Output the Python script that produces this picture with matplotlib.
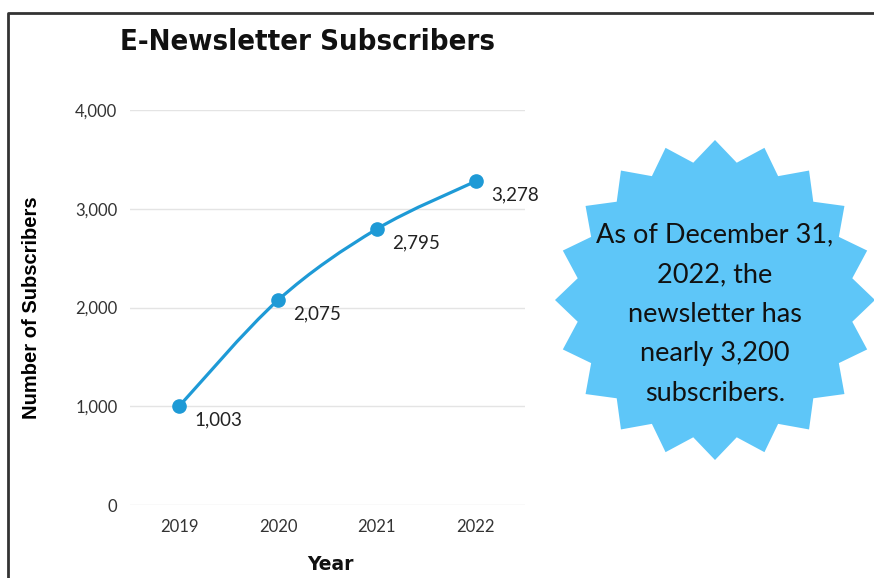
import numpy as np
from matplotlib import pyplot as plt
from matplotlib.path import Path
from matplotlib.patches import PathPatch, Polygon
from matplotlib.lines import Line2D
from matplotlib.ticker import FuncFormatter

years = ["2019", "2020", "2021", "2022"]
subscribers = [1003, 2075, 2795, 3278]
y_ticks = [0, 1000, 2000, 3000, 4000]
note_lines = ["As of December 31,", "2022, the", "newsletter has", "nearly 3,200", "subscribers."]

line_color = "#1e9ad6"
star_color = "#5ec6f8"


def smooth_path(xs, ys):
    # Catmull-Rom segments turned into cubic bezier pieces
    pts = np.column_stack([xs, ys]).astype(float)
    verts = [pts[0]]
    codes = [Path.MOVETO]
    n = len(pts)
    for i in range(n - 1):
        p0 = pts[i - 1] if i > 0 else pts[i]
        p1 = pts[i]
        p2 = pts[i + 1]
        p3 = pts[i + 2] if i + 2 < n else pts[i + 1]
        c1 = p1 + (p2 - p0) / 6.0
        c2 = p2 - (p3 - p1) / 6.0
        verts += [c1, c2, p2]
        codes += [Path.CURVE4] * 3
    return Path(verts, codes)


fig = plt.figure(figsize=(8.74, 5.78), dpi=100)
W, H = 874, 578

ax = fig.add_axes([130 / W, 1 - 505 / H, 395 / W, 395 / H])
x = np.arange(len(years))
ax.add_patch(PathPatch(smooth_path(x, subscribers), fill=False, edgecolor=line_color,
                       lw=2.3, clip_on=False, zorder=3))
ax.plot(x, subscribers, "o", color=line_color, markersize=9.5, clip_on=False, zorder=4)
for xi, v in zip(x, subscribers):
    ax.annotate(f"{v:,}", (xi, v), xytext=(11, -10), textcoords="offset points",
                ha="left", va="center", fontsize=13.5, color="#222222", family="Lato")

ax.set_xlim(-0.5, 3.5)
ax.set_ylim(0, 4000)
ax.set_xticks(x)
ax.set_xticklabels(years)
ax.set_yticks(y_ticks)
ax.yaxis.set_major_formatter(FuncFormatter(lambda v, p: f"{int(v):,}"))
ax.tick_params(length=0, labelsize=12, labelcolor="#333333", pad=9)
ax.tick_params(axis="x", pad=10)
for lab in ax.get_xticklabels() + ax.get_yticklabels():
    lab.set_family("Lato")
ax.grid(axis="y", color="#e4e4e4", lw=1)
ax.set_axisbelow(True)
for s in ax.spines.values():
    s.set_visible(False)

fig.text(120 / W, 1 - 42 / H, "E-Newsletter Subscribers", fontsize=21, fontweight="bold",
         family="DejaVu Sans", fontstretch="condensed", ha="left", va="center", color="#111111")
fig.text(32 / W, 1 - 308 / H, "Number of Subscribers", rotation=90, fontsize=14.5,
         fontweight="bold", family="Liberation Sans", ha="center", va="center")
fig.text(330 / W, 1 - 565 / H, "Year", fontsize=13.5, fontweight="bold", family="DejaVu Sans",
         ha="center", va="center", color="#111111")

# overlay in pixel coordinates for the frame and the star note
ov = fig.add_axes([0, 0, 1, 1], zorder=-1)
ov.set_xlim(0, W)
ov.set_ylim(H, 0)
ov.axis("off")

n_pts = 20
cx, cy, r_out, r_in = 715, 300, 160, 139
ang = np.pi / 2 + np.arange(2 * n_pts) * np.pi / n_pts
rad = np.where(np.arange(2 * n_pts) % 2 == 0, r_out, r_in)
star = np.column_stack([cx + rad * np.cos(ang), cy - rad * np.sin(ang)])
ov.add_patch(Polygon(star, closed=True, facecolor=star_color, edgecolor="none"))
ov.text(cx, 314, "\n".join(note_lines), ha="center", va="center", fontsize=19.5,
        family="Lato", linespacing=1.73, color="#111111")

ov.add_line(Line2D([8, 8, W + 5], [H + 5, 13, 13], color="#333333", lw=2))

fig.savefig("out.png", dpi=100)
